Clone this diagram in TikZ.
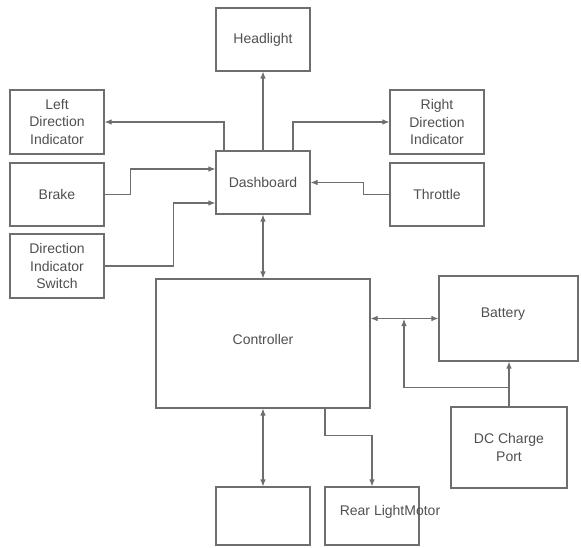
\documentclass[tikz,border=0pt]{standalone}
\usepackage{fontspec}
\setmainfont{Liberation Sans}
\usetikzlibrary{arrows.meta,positioning}
\definecolor{linegray}{HTML}{6E6E6E}
\definecolor{textgray}{HTML}{505050}
\tikzset{
  box/.style   = {draw=linegray, line width=1.1pt, fill=white, align=center,
                  text=textgray, font=\fontsize{14}{17.5}\selectfont,
                  minimum width=94pt, minimum height=63pt, inner sep=1pt},
  txt/.style   = {text=textgray, font=\fontsize{14}{17.5}\selectfont, inner sep=0pt},
  wire/.style  = {draw=linegray, line width=1.1pt},
  arr/.style   = {wire, -{Latex[length=7pt,width=5.5pt]}},
  darr/.style  = {wire, {Latex[length=7pt,width=5.5pt]}-{Latex[length=7pt,width=5.5pt]}},
}
\begin{document}
\begin{tikzpicture}[x=1pt,y=-1pt]
  \useasboundingbox (0,0) rectangle (581,548);
  % top row
  \node[box] (head)     at (263,39.5)  {Headlight};
  \node[box, minimum height=64pt] (ldi) at (57,122) {Left\\Direction\\Indicator};
  \node[box, minimum height=64pt] (rdi) at (437,122) {Right\\Direction\\Indicator};
  \node[box] (brake)    at (57,194.5)  {Brake};
  \node[box] (dash)     at (263,182.5) {Dashboard};
  \node[box] (throttle) at (437,194.5) {Throttle};
  \node[box, minimum height=64pt] (dis) at (57,266) {Direction\\Indicator\\Switch};
  % lower part
  \node[box, minimum width=214pt, minimum height=129pt] (ctrl) at (263,343.5) {};
  \node[txt] (ctrltxt) at (263,339) {Controller};
  \node[box, minimum width=139pt, minimum height=85pt] (battery) at (508.5,318.5) {};
  \node[txt] (battxt) at (503,314) {Battery};
  \node[box, minimum width=116pt, minimum height=81pt] (dc) at (509,447.5) {DC Charge\\Port};
  \node[box, minimum height=58pt] (blank) at (263,516) {};
  \node[box, minimum height=58pt] (rear)  at (372,516) {};
  \node[txt] (reartxt) at (390,512) {Rear LightMotor};

  \coordinate (junc) at (404,319);

  % dashboard links
  \draw[arr] (dash) -- (head);
  \draw[arr] ([xshift=-39pt]dash.north) |- (ldi.east);
  \draw[arr] ([xshift=30pt]dash.north) |- (rdi.west);
  \draw[arr] (brake.east) -- ++(26,0) |- ([yshift=13.5pt]dash.west);
  \draw[arr] (dis.east) -- ++(69,0) |- ([yshift=-20.5pt]dash.west);
  \draw[arr] (throttle.west) -- ++(-26,0) |- (dash.east);
  \draw[darr] (dash) -- (ctrl);

  % controller links
  \draw[darr] (battery.west -| ctrl.east) -- (battery.west);
  \draw[arr] (dc.north) -- (dc.north |- battery.south);
  \draw[arr] ([yshift=19pt]dc.north) -| (junc);
  \draw[darr] (ctrl.south) -- (blank.north);
  \draw[arr] ([xshift=62pt]ctrl.south) -- ++(0,27) -| (rear.north);
\end{tikzpicture}
\end{document}
